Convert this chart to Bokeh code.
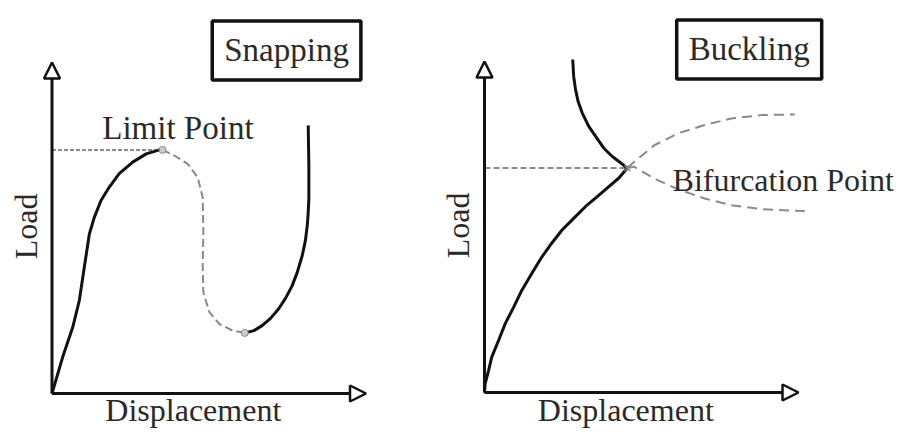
from bokeh.plotting import figure
from bokeh.layouts import row
from bokeh.models import Range1d, Arrow, NormalHead, Label
from bokeh.embed import file_html
from bokeh.resources import INLINE

# ---------------- data (axis units: 0..10 along each arrow) ----------------
# Snapping panel
snap_rise_disp = [0.0, 0.34, 0.66, 0.87, 1.03, 1.19, 1.35, 1.56, 1.82, 2.14, 2.57, 3.00, 3.42, 3.52]
snap_rise_load = [0.0, 1.10, 2.00, 2.81, 3.82, 4.82, 5.33, 5.83, 6.23, 6.64, 6.99, 7.24, 7.36, 7.36]
snap_unstable_disp = [3.52, 3.89, 4.32, 4.64, 4.80, 4.82, 4.80, 4.82, 5.01, 5.33, 5.75, 6.14]
snap_unstable_load = [7.36, 7.19, 6.94, 6.53, 5.93, 4.87, 3.87, 3.06, 2.46, 2.10, 1.90, 1.83]
snap_stiff_disp = [6.14, 6.43, 6.69, 6.96, 7.22, 7.44, 7.65, 7.81, 7.97, 8.07, 8.13, 8.16,
                   8.18, 8.18, 8.18, 8.17, 8.16]
snap_stiff_load = [1.83, 1.90, 2.05, 2.27, 2.56, 2.88, 3.26, 3.66, 4.17, 4.62, 5.08, 5.48,
                   5.88, 6.39, 6.89, 7.49, 8.10]
limit_point = (3.52, 7.36)
snap_back_point = (6.14, 1.83)

# Buckling panel
buck_pre_disp = [0.0, 0.02, 0.13, 0.23, 0.45, 0.66, 0.93, 1.19, 1.51, 1.83, 2.14, 2.47,
                 2.84, 3.22, 3.59, 3.96, 4.28, 4.55]
buck_pre_load = [0.0, 0.26, 0.67, 1.07, 1.58, 2.08, 2.58, 3.09, 3.60, 4.10, 4.51, 4.91,
                 5.26, 5.62, 5.92, 6.22, 6.48, 6.78]
buck_post_disp = [4.55, 4.28, 4.07, 3.80, 3.54, 3.32, 3.11, 2.98, 2.90, 2.84, 2.81]
buck_post_load = [6.78, 6.98, 7.13, 7.38, 7.74, 8.04, 8.45, 8.80, 9.15, 9.55, 10.06]
buck_up_disp = [4.55, 4.77, 5.41, 6.16, 7.01, 7.86, 8.82, 9.88]
buck_up_load = [6.78, 6.97, 7.47, 7.83, 8.08, 8.28, 8.38, 8.40]
buck_down_disp = [4.55, 4.77, 5.41, 6.16, 7.01, 7.86, 8.82, 10.20]
buck_down_load = [6.78, 6.82, 6.46, 6.14, 5.86, 5.66, 5.54, 5.48]
bifurcation_point = (4.55, 6.78)

axis_len = 10.0
titles = ["Snapping", "Buckling"]
x_label = "Displacement"
y_label = "Load"

FONT = "Liberation Serif"
TXT = "#2a2a2a"
GREY = "#8a8a8a"
BLACK = "#111111"

# pixels per axis unit
PX_X, PX_Y = 31.4, 33.1
FIG_H = 431


def make_panel(width, page_left, origin_x, origin_y):
    x0 = (page_left - origin_x) / PX_X
    x1 = (page_left + width - origin_x) / PX_X
    y1 = (origin_y - 0) / PX_Y
    y0 = (origin_y - FIG_H) / PX_Y
    p = figure(width=width, height=FIG_H, output_backend="svg", toolbar_location=None,
               x_range=Range1d(x0, x1), y_range=Range1d(y0, y1),
               x_axis_type=None, y_axis_type=None, min_border=0,
               background_fill_color="white", border_fill_color="white")
    p.outline_line_color = None
    p.grid.visible = False
    for xe, ye in [(axis_len, 0), (0, axis_len)]:
        p.add_layout(Arrow(x_start=0, y_start=0, x_end=xe, y_end=ye,
                           line_width=3, line_color=BLACK,
                           end=NormalHead(size=16, fill_color="white",
                                          line_color=BLACK, line_width=2.5)))
    p.add_layout(Label(x=-0.84, y=5.05, text=y_label, angle=1.5708,
                       text_align="center", text_baseline="middle",
                       text_font=FONT, text_font_size="32px", text_color=TXT))
    p.add_layout(Label(x=4.5, y=y0, y_offset=4, text=x_label,
                       text_align="center", text_baseline="bottom",
                       text_font=FONT, text_font_size="32px", text_color=TXT))
    return p


def title_box(p, x, y, text):
    p.add_layout(Label(x=x, y=y, text=text, text_align="center",
                       text_baseline="middle", text_font=FONT, text_font_size="33px",
                       text_color=TXT, border_line_color=BLACK, border_line_width=3.5,
                       background_fill_color="white",
                       padding=dict(left=12, right=12, top=11, bottom=12)))


# ---------------- Snapping ----------------
p1 = make_panel(440, 0, 51.5, 393)
p1.line([0, limit_point[0]], [limit_point[1], limit_point[1]],
        line_color="#666666", line_width=1.5, line_dash="4 2")
p1.line(snap_unstable_disp, snap_unstable_load, line_color=GREY,
        line_width=2, line_dash="8 4")
p1.line(snap_rise_disp, snap_rise_load, line_color=BLACK, line_width=3)
p1.line(snap_stiff_disp, snap_stiff_load, line_color=BLACK, line_width=3)
p1.scatter([limit_point[0], snap_back_point[0]], [limit_point[1], snap_back_point[1]],
           size=7, fill_color="#cccccc", line_color=GREY, line_width=1)
p1.add_layout(Label(x=4.01, y=8.01, text="Limit Point", text_align="center",
                    text_baseline="alphabetic", text_font=FONT,
                    text_font_size="33px", text_color=TXT))
title_box(p1, 7.47, 10.36, titles[0])

# ---------------- Buckling ----------------
p2 = make_panel(458, 440, 484, 392)
p2.line([0, bifurcation_point[0]], [bifurcation_point[1], bifurcation_point[1]],
        line_color=GREY, line_width=2, line_dash="6 3")
p2.line(buck_up_disp, buck_up_load, line_color=GREY, line_width=2, line_dash="10 6")
p2.line(buck_down_disp, buck_down_load, line_color=GREY, line_width=2, line_dash="10 6")
p2.line(buck_pre_disp, buck_pre_load, line_color=BLACK, line_width=3)
p2.line(buck_post_disp, buck_post_load, line_color=BLACK, line_width=3)
p2.scatter([bifurcation_point[0]], [bifurcation_point[1]], marker="x",
           size=8, line_color=GREY, line_width=1.5)
p2.add_layout(Label(x=5.99, y=6.42, text="Bifurcation Point", text_align="left",
                    text_baseline="alphabetic", text_font=FONT,
                    text_font_size="32px", text_color=TXT))
title_box(p2, 8.43, 10.36, titles[1])

layout = row(p1, p2)
open("out.html", "w").write(file_html(layout, INLINE))
